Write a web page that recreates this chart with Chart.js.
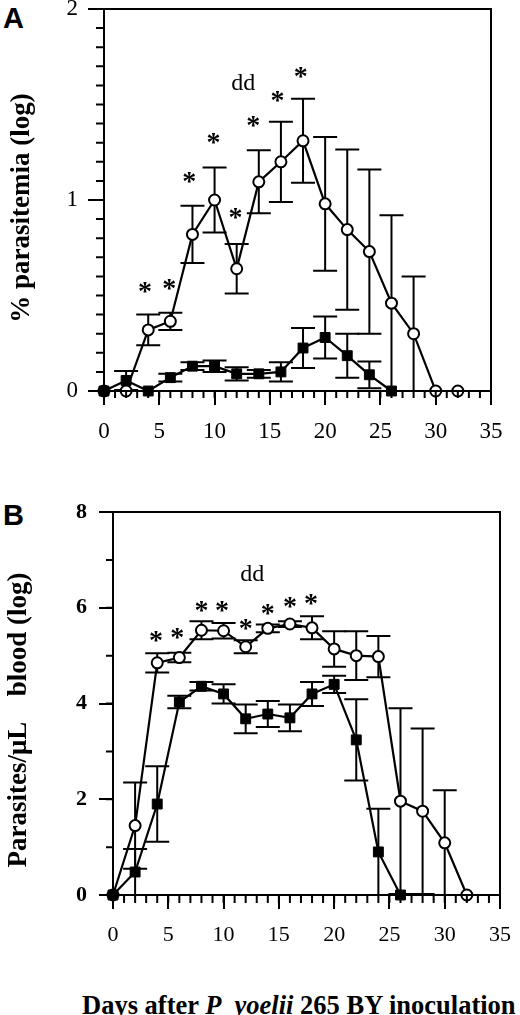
<!DOCTYPE html>
<html>
<head>
<meta charset="utf-8">
<script src="https://cdn.jsdelivr.net/npm/chart.js@4.4.1/dist/chart.umd.min.js"></script>
<style>
  body { margin: 0; background: #fff; width: 520px; height: 1015px; position: relative; overflow: hidden; }
  canvas { position: absolute; left: 0; }
  #chartA { top: 0; }
  #chartB { top: 480px; }
  .lbl { position: absolute; font-family: "Liberation Serif", serif; font-weight: bold; white-space: pre; line-height: 1; color: #000; }
  .rot { transform: translate(-50%, -50%) rotate(-90deg); }
  .panel { position: absolute; font: bold 29px "Liberation Sans", sans-serif; line-height: 1; color: #000; }
</style>
</head>
<body>
<div class="panel" style="left:3px;top:4px">A</div>
<div class="panel" style="left:3px;top:501px">B</div>
<canvas id="chartA" width="520" height="470"></canvas>
<canvas id="chartB" width="520" height="470"></canvas>
<div class="lbl rot" style="left:20px;top:208px;font-size:27px">% parasitemia (log)</div>
<div class="lbl rot" style="left:17px;top:720px;font-size:27px">Parasites/μL    blood (log)</div>
<div class="lbl" style="left:82px;top:992px;font-size:26.5px">Days after <i>P</i>  <i>yoelii</i> 265 BY inoculation</div>
<script>
// Days of sampling
const daysCirc = [0, 2, 4, 6, 8, 10, 12, 14, 16, 18, 20, 22, 24, 26, 28, 30, 32];
const daysSq = [0, 2, 4, 6, 8, 10, 12, 14, 16, 18, 20, 22, 24, 26];

// Panel A: % parasitemia (log)
const circA = [0, 0, 0.32, 0.365, 0.82, 1.00, 0.64, 1.095, 1.20, 1.31, 0.98, 0.845, 0.73, 0.46, 0.30, 0, 0];
const circASd = [0, 0, 0.08, 0.045, 0.15, 0.17, 0.13, 0.165, 0.21, 0.22, 0.35, 0.42, 0.43, 0.46, 0.30, 0, 0];
const sqA = [0, 0.055, 0, 0.07, 0.13, 0.13, 0.09, 0.09, 0.10, 0.225, 0.28, 0.185, 0.085, 0];
const sqASd = [0, 0.05, 0, 0.02, 0.02, 0.03, 0.035, 0.02, 0.05, 0.105, 0.11, 0.115, 0.07, 0];

// Panel B: parasites/uL blood (log)
const circB = [0, 1.45, 4.85, 4.96, 5.53, 5.52, 5.185, 5.57, 5.66, 5.58, 5.14, 5.0, 4.98, 1.96, 1.75, 1.09, 0];
const circBSd = [0, 0.9, 0.2, 0.1, 0.19, 0.16, 0.135, 0.08, 0.06, 0.24, 0.37, 0.51, 0.43, 1.94, 1.73, 1.1, 0];
const sqB = [0, 0.48, 1.9, 4.03, 4.36, 4.2, 3.68, 3.78, 3.70, 4.2, 4.40, 3.24, 0.9, 0];
const sqBSd = [0, 0.48, 0.79, 0.13, 0.09, 0.2, 0.3, 0.27, 0.28, 0.25, 0.18, 0.85, 0.9, 0];

// Significance marks (*) and "dd"
const starXA = [3.7, 5.9, 7.7, 9.9, 11.9, 13.5, 15.7, 17.8];
const starYA = [0.54, 0.56, 1.12, 1.32, 0.93, 1.41, 1.54, 1.67];
const starXB = [3.9, 5.8, 8.0, 9.85, 12.0, 14.0, 16.0, 17.9];
const starYB = [5.40, 5.47, 6.03, 6.03, 5.66, 5.96, 6.10, 6.17];
const ddA = [12.6, 1.62];
const ddB = [12.6, 6.72];

const serif = 'Liberation Serif';

function toPoints(xs, ys) {
  return xs.map((x, i) => ({ x: x, y: ys[i] }));
}

// box round the plot + short minor ticks
const frameTicks = {
  id: 'frameTicks',
  afterDraw(chart, args, opts) {
    const { ctx, chartArea: a, scales: { x, y } } = chart;
    ctx.save();
    ctx.strokeStyle = '#000';
    ctx.lineWidth = 2;
    ctx.strokeRect(a.left, a.top, a.right - a.left, a.bottom - a.top);
    ctx.beginPath();
    const nx = Math.round((x.max - x.min) / opts.xStep);
    for (let i = 0; i <= nx; i++) {
      const px = x.getPixelForValue(x.min + i * opts.xStep);
      ctx.moveTo(px, a.bottom);
      ctx.lineTo(px, a.bottom + opts.xLen);
    }
    const ny = Math.round((y.max - y.min) / opts.yStep);
    for (let i = 0; i <= ny; i++) {
      const py = y.getPixelForValue(y.min + i * opts.yStep);
      ctx.moveTo(a.left, py);
      ctx.lineTo(a.left - opts.yLen, py);
    }
    ctx.stroke();
    ctx.restore();
  }
};

const errorBars = {
  id: 'errorBars',
  beforeDatasetsDraw(chart, args, opts) {
    const { ctx, scales: { x, y } } = chart;
    ctx.save();
    ctx.strokeStyle = '#000';
    ctx.lineWidth = 2;
    chart.data.datasets.forEach(ds => {
      if (!ds.sd) return;
      ds.data.forEach((p, i) => {
        const s = ds.sd[i];
        if (!s) return;
        const px = x.getPixelForValue(p.x);
        const top = y.getPixelForValue(p.y + s);
        const bot = y.getPixelForValue(Math.max(0, p.y - s));
        ctx.beginPath();
        ctx.moveTo(px, top); ctx.lineTo(px, bot);
        ctx.moveTo(px - opts.cap, top); ctx.lineTo(px + opts.cap, top);
        ctx.moveTo(px - opts.cap, bot); ctx.lineTo(px + opts.cap, bot);
        ctx.stroke();
      });
    });
    ctx.restore();
  }
};

function centerText(ctx, text, px, py) {
  const m = ctx.measureText(text);
  const dx = (m.actualBoundingBoxLeft - m.actualBoundingBoxRight) / 2;
  const dy = (m.actualBoundingBoxAscent - m.actualBoundingBoxDescent) / 2;
  ctx.fillText(text, px + dx, py + dy);
}

const marks = {
  id: 'marks',
  afterDatasetsDraw(chart, args, opts) {
    const { ctx, scales: { x, y } } = chart;
    ctx.save();
    ctx.fillStyle = '#000';
    ctx.textAlign = 'left';
    ctx.textBaseline = 'alphabetic';
    ctx.font = 'bold 28px "' + serif + '"';
    opts.starX.forEach((sx, i) => {
      centerText(ctx, '*', x.getPixelForValue(sx), y.getPixelForValue(opts.starY[i]));
    });
    ctx.font = '24px "' + serif + '"';
    centerText(ctx, 'dd', x.getPixelForValue(opts.dd[0]), y.getPixelForValue(opts.dd[1]));
    ctx.restore();
  }
};

function makeChart(id, p) {
  return new Chart(document.getElementById(id), {
    type: 'line',
    data: {
      datasets: [{
        data: toPoints(daysSq, p.sq),
        sd: p.sqSd,
        borderColor: '#000',
        borderWidth: 2.2,
        pointStyle: 'rect',
        pointRadius: 7,
        pointBackgroundColor: '#000',
        pointBorderColor: '#000',
        pointBorderWidth: 1,
        tension: 0,
        clip: false
      }, {
        data: toPoints(daysCirc, p.circ),
        sd: p.circSd,
        borderColor: '#000',
        borderWidth: 2.2,
        pointStyle: 'circle',
        pointRadius: 5.5,
        pointBackgroundColor: '#fff',
        pointBorderColor: '#000',
        pointBorderWidth: 2,
        tension: 0,
        clip: false
      }]
    },
    options: {
      responsive: false,
      animation: false,
      events: [],
      layout: { autoPadding: false, padding: p.padding },
      plugins: {
        legend: { display: false },
        tooltip: { enabled: false },
        errorBars: { cap: 12 },
        frameTicks: p.minor,
        marks: { starX: p.starX, starY: p.starY, dd: p.dd }
      },
      scales: {
        x: {
          type: 'linear', min: 0, max: 35,
          ticks: { stepSize: 5, autoSkip: false, maxRotation: 0, color: '#000', padding: p.xPad,
                   font: { family: serif, size: p.xFont } },
          grid: { drawOnChartArea: false, tickLength: 14, lineWidth: 2, tickWidth: 2, tickColor: '#000' },
          border: { color: '#000', width: 2 },
          afterFit(s) { s.height = p.xHeight; s.paddingLeft = 0; s.paddingRight = 0; }
        },
        y: {
          type: 'linear', min: 0, max: p.yMax,
          ticks: { stepSize: p.yStep, color: '#000', padding: p.yPad,
                   font: { family: serif, size: p.yFont, weight: p.yWeight } },
          grid: { drawOnChartArea: false, tickLength: p.yTick, lineWidth: 2, tickWidth: 2, tickColor: '#000' },
          border: { color: '#000', width: 2 },
          afterFit(s) { s.width = p.yWidth; s.paddingTop = 0; s.paddingBottom = 0; }
        }
      }
    },
    plugins: [errorBars, frameTicks, marks]
  });
}

makeChart('chartA', {
  circ: circA, circSd: circASd, sq: sqA, sqSd: sqASd,
  starX: starXA, starY: starYA, dd: ddA,
  padding: { left: 0, top: 9, right: 29, bottom: 9 },
  yWidth: 104, yMax: 2, yStep: 1, yTick: 16, yPad: 10, yFont: 23, yWeight: 'normal',
  xHeight: 70, xPad: 13, xFont: 23,
  minor: { xStep: 1, xLen: 7, yStep: 0.1, yLen: 8 }
});

makeChart('chartB', {
  circ: circB, circSd: circBSd, sq: sqB, sqSd: sqBSd,
  starX: starXB, starY: starYB, dd: ddB,
  padding: { left: 0, top: 32, right: 20, bottom: 0 },
  yWidth: 113, yMax: 8, yStep: 2, yTick: 14, yPad: 12, yFont: 22, yWeight: 'bold',
  xHeight: 55, xPad: 13, xFont: 22,
  minor: { xStep: 1, xLen: 8, yStep: 1, yLen: 7 }
});
</script>
</body>
</html>
